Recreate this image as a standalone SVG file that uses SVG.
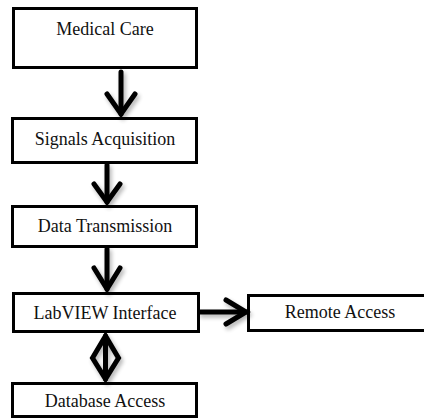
<svg xmlns="http://www.w3.org/2000/svg" width="424" height="419" viewBox="0 0 424 419">
  <style>
    .box { fill: #ffffff; stroke: #000000; stroke-width: 3; }
    .lbl { font-family: "Liberation Serif", "Times New Roman", serif; font-size: 18px; fill: #111111; text-anchor: middle; }
    .edge { stroke: #000000; stroke-width: 5; fill: none; stroke-linecap: round; }
    .head { stroke: #000000; stroke-width: 5; fill: none; stroke-linecap: round; stroke-linejoin: miter; }
  </style>
  <defs>
    <filter id="shadow" x="-50%" y="-50%" width="200%" height="200%">
      <feGaussianBlur in="SourceAlpha" stdDeviation="2"/>
      <feOffset dx="2" dy="3" result="b"/>
      <feComponentTransfer><feFuncA type="linear" slope="0.3"/></feComponentTransfer>
      <feMerge><feMergeNode/><feMergeNode in="SourceGraphic"/></feMerge>
    </filter>
  </defs>

  <g id="node-medical-care">
    <rect class="box" x="13.5" y="8.5" width="183" height="59"/>
    <text class="lbl" x="105" y="35">Medical Care</text>
  </g>
  <g id="node-signals-acquisition">
    <rect class="box" x="12.5" y="118.5" width="184" height="44"/>
    <text class="lbl" x="105" y="145">Signals Acquisition</text>
  </g>
  <g id="node-data-transmission">
    <rect class="box" x="12.5" y="206.5" width="184" height="40"/>
    <text class="lbl" x="105" y="232">Data Transmission</text>
  </g>
  <g id="node-labview-interface">
    <rect class="box" x="13.5" y="293.5" width="185" height="38"/>
    <text class="lbl" x="105" y="319">LabVIEW Interface</text>
  </g>
  <g id="node-database-access">
    <rect class="box" x="12.5" y="383.5" width="184" height="33"/>
    <text class="lbl" x="105" y="407">Database Access</text>
  </g>
  <g id="node-remote-access">
    <rect class="box" x="248.5" y="295.5" width="180" height="35"/>
    <text class="lbl" x="340" y="318">Remote Access</text>
  </g>

  <g id="connectors" filter="url(#shadow)">
    <!-- Medical Care -> Signals Acquisition -->
    <line class="edge" x1="121" y1="72" x2="121" y2="114"/>
    <path class="head" d="M107 94 L121 114 L135 94"/>
    <!-- Signals Acquisition -> Data Transmission -->
    <line class="edge" x1="107" y1="165" x2="107" y2="202"/>
    <path class="head" d="M94 184 L107 202 L120 184"/>
    <!-- Data Transmission -> LabVIEW Interface -->
    <line class="edge" x1="107" y1="249" x2="107" y2="289"/>
    <path class="head" d="M94 268 L107 289 L120 268"/>
    <!-- LabVIEW Interface -> Remote Access -->
    <line class="edge" x1="200" y1="312" x2="246" y2="312"/>
    <path class="head" d="M226 300 L246 312 L226 324"/>
    <!-- LabVIEW Interface <-> Database Access -->
    <line class="edge" x1="105.5" y1="336" x2="105.5" y2="379"/>
    <path class="head" d="M105.5 336 L92.5 358 L105.5 379 L118.5 358 Z"/>
  </g>
</svg>
